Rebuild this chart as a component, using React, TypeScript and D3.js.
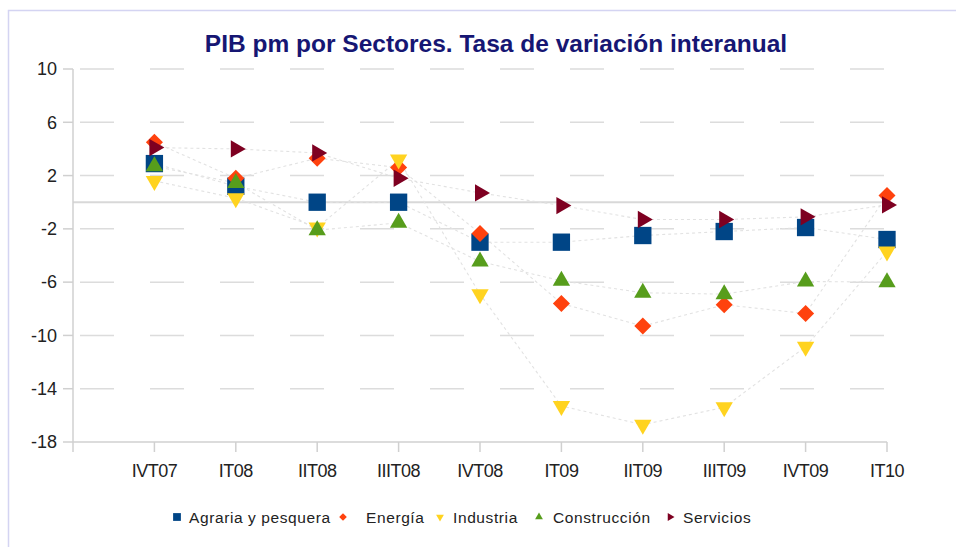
import React from "react";
import * as d3 from "d3";

const categories = ["IVT07", "IT08", "IIT08", "IIIT08", "IVT08", "IT09", "IIT09", "IIIT09", "IVT09", "IT10"];
const agraria = [2.9, 1.2, 0.0, 0.0, -3.0, -3.0, -2.5, -2.2, -1.9, -2.8];
const energia = [4.5, 1.8, 3.3, 2.6, -2.35, -7.6, -9.3, -7.7, -8.35, 0.5];
const industria = [1.6, 0.3, -1.9, 3.2, -6.9, -15.3, -16.7, -15.4, -10.85, -3.7];
const construccion = [2.7, 1.45, -2.1, -1.55, -4.45, -5.9, -6.8, -6.9, -5.95, -6.0];
const servicios = [4.1, 4.0, 3.7, 1.8, 0.7, -0.25, -1.3, -1.3, -1.1, -0.2];
const yTicks = [10, 6, 2, -2, -6, -10, -14, -18];
const seriesNames = ["Agraria y pesquera", "Energía", "Industria", "Construcción", "Servicios"];
const title = "PIB pm por Sectores. Tasa de variación interanual";

const colors = ["#004586", "#ff420e", "#ffd320", "#579d1c", "#7e0021"];
const legendX = [177, 343, 440, 539, 670];
const legendTextX = [189, 366, 453, 553, 683];

function markerPath(kind: number, scale: number) {
  if (kind === 0) return d3.symbol(d3.symbolSquare, 300 * scale * scale)()!;
  if (kind === 1) return d3.symbol(d3.symbolSquare, 145 * scale * scale)()!;
  return d3.symbol(d3.symbolTriangle, 130 * scale * scale)()!;
}
function markerRot(kind: number) {
  if (kind === 1) return 45;
  if (kind === 2) return 180;
  if (kind === 4) return 90;
  return 0;
}

export default function App() {
  const W = 956, H = 547;
  const x = d3.scaleLinear().domain([0, categories.length]).range([73, 887]);
  const y = d3.scaleLinear().domain([-18, 10]).range([442, 69]);
  const series = [agraria, energia, industria, construccion, servicios];
  const line = d3.line<number>().x((_, i) => x(i + 1)).y((d) => y(d));
  const font = "'Liberation Sans', Arial, sans-serif";

  return (
    <svg width={W} height={H} style={{ position: "absolute", left: 0, top: 0, background: "#fff" }} fontFamily={font}>
      <rect x={0} y={0} width={W} height={H} fill="#fff" />
      <path d={`M8.5,${H} L8.5,10.5 L${W},10.5`} fill="none" stroke="#d4d4f2" strokeWidth={1.5} />
      <text x={496} y={52} textAnchor="middle" fontWeight="bold" fontSize={24.5} fill="#161673">{title}</text>

      {yTicks.filter((t) => t !== -18).map((t) => (
        <line key={"g" + t} x1={80} x2={887} y1={y(t)} y2={y(t)} stroke="#dcdcdc" strokeWidth={1.5} strokeDasharray="34 36" />
      ))}
      <line x1={73} x2={887} y1={y(0)} y2={y(0)} stroke="#d8d8d8" strokeWidth={2} />
      <line x1={73} x2={73} y1={y(10)} y2={y(-18)} stroke="#d0d0d0" strokeWidth={1.5} />
      <line x1={73} x2={887} y1={y(-18)} y2={y(-18)} stroke="#d0d0d0" strokeWidth={1.5} />
      {yTicks.map((t) => (
        <g key={"y" + t}>
          <line x1={63} x2={73} y1={y(t)} y2={y(t)} stroke="#d0d0d0" strokeWidth={1.5} />
          <text x={57} y={y(t)} dy="0.35em" textAnchor="end" fontSize={18} fill="#222">{t}</text>
        </g>
      ))}
      <line x1={73} x2={73} y1={y(-18)} y2={y(-18) + 10} stroke="#d0d0d0" strokeWidth={1.5} />
      {categories.map((c, i) => (
        <g key={c}>
          <line x1={x(i + 1)} x2={x(i + 1)} y1={y(-18)} y2={y(-18) + 10} stroke="#d0d0d0" strokeWidth={1.5} />
          <text x={x(i + 1)} y={477} textAnchor="middle" fontSize={18} fill="#222" letterSpacing={-0.5}>{c}</text>
        </g>
      ))}

      {series.map((s, k) => (
        <path key={"l" + k} d={line(s)!} fill="none" stroke="#e2e2e2" strokeWidth={1.1} strokeDasharray="3 3" />
      ))}
      {series.map((s, k) => (
        <g key={"m" + k}>
          {s.map((v, i) => (
            <path key={i} d={markerPath(k, 1)} fill={colors[k]} transform={`translate(${x(i + 1)},${y(v)}) rotate(${markerRot(k)})`} />
          ))}
        </g>
      ))}

      {seriesNames.map((n, k) => (
        <g key={"lg" + k}>
          <path d={markerPath(k, 0.45)} fill={colors[k]} transform={`translate(${legendX[k]},${517}) rotate(${markerRot(k)})`} />
          <text x={legendTextX[k]} y={518} dy="0.35em" fontSize={15.5} letterSpacing={0.6} fill="#222">{n}</text>
        </g>
      ))}
    </svg>
  );
}
